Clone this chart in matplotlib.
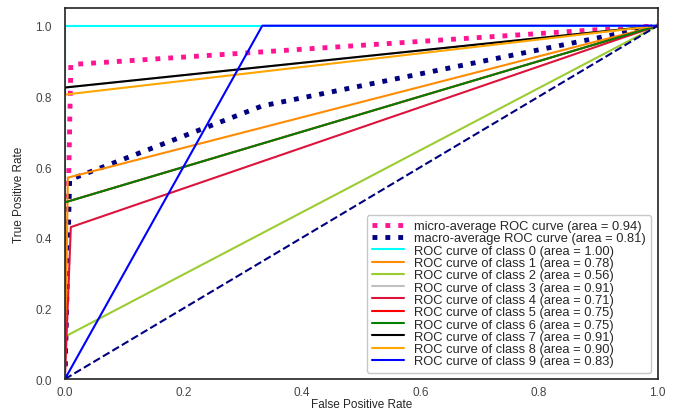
import matplotlib
matplotlib.use('Agg')
import matplotlib.pyplot as plt
import seaborn as sns

sns.set_style('white')
plt.rcParams['font.family'] = ['Liberation Sans', 'DejaVu Sans']

# per-class ROC points (fpr, tpr)
class_fpr = [
    [0.0, 0.0, 1.0],
    [0.0, 0.005, 1.0],
    [0.0, 0.0, 1.0],
    [0.0, 0.0, 1.0],
    [0.0, 0.01, 1.0],
    [0.0, 0.0, 1.0],
    [0.0, 0.0, 1.0],
    [0.0, 0.0, 1.0],
    [0.0, 0.0, 1.0],
    [0.0, 0.333, 1.0],
]
class_tpr = [
    [0.0, 1.0, 1.0],
    [0.0, 0.57, 1.0],
    [0.0, 0.12, 1.0],
    [0.0, 0.825, 1.0],
    [0.0, 0.43, 1.0],
    [0.0, 0.50, 1.0],
    [0.0, 0.50, 1.0],
    [0.0, 0.825, 1.0],
    [0.0, 0.805, 1.0],
    [0.0, 1.0, 1.0],
]
class_auc = [1.00, 0.78, 0.56, 0.91, 0.71, 0.75, 0.75, 0.91, 0.90, 0.83]
colors = ['aqua', 'darkorange', 'yellowgreen', 'silver', 'crimson', 'red',
          'green', 'black', 'orange', 'blue']

micro_fpr = [0.0, 0.01, 1.0]
micro_tpr = [0.0, 0.89, 1.0]
micro_auc = 0.94

macro_fpr = [0.0, 0.008, 0.333, 1.0]
macro_tpr = [0.0, 0.564, 0.773, 1.0]
macro_auc = 0.81

fig = plt.figure(figsize=(6.76, 4.10), dpi=100)
ax = fig.add_axes([0.096, 0.073, 0.877, 0.905])

ax.plot(micro_fpr, micro_tpr, color='deeppink', linestyle=':', linewidth=3.5,
        label='micro-average ROC curve (area = {0:0.2f})'.format(micro_auc))
ax.plot(macro_fpr, macro_tpr, color='navy', linestyle=':', linewidth=3.5,
        label='macro-average ROC curve (area = {0:0.2f})'.format(macro_auc))

for i in range(len(class_auc)):
    ax.plot(class_fpr[i], class_tpr[i], color=colors[i], lw=1.5,
            label='ROC curve of class {0} (area = {1:0.2f})'.format(i, class_auc[i]))

ax.plot([0, 1], [0, 1], color='navy', linestyle='--', lw=1.5)

ax.set_xlim([0.0, 1.0])
ax.set_ylim([0.0, 1.05])
ax.set_xlabel('False Positive Rate', fontsize=8.5, labelpad=0)
ax.set_ylabel('True Positive Rate', fontsize=8.5, labelpad=7)
ax.tick_params(labelsize=8.5, colors='#444444')
ax.tick_params(axis='x', pad=1.5)
ax.tick_params(axis='y', pad=6)
for s in ax.spines.values():
    s.set_color('#222222')
    s.set_linewidth(1.2)

leg = ax.legend(loc='lower right', fontsize=9.3, labelspacing=0.02,
                handlelength=2.5, handletextpad=0.8, borderpad=0.4,
                borderaxespad=0.5, frameon=True)
leg.get_frame().set_edgecolor('#bbbbbb')

fig.savefig('out.png', dpi=100)
